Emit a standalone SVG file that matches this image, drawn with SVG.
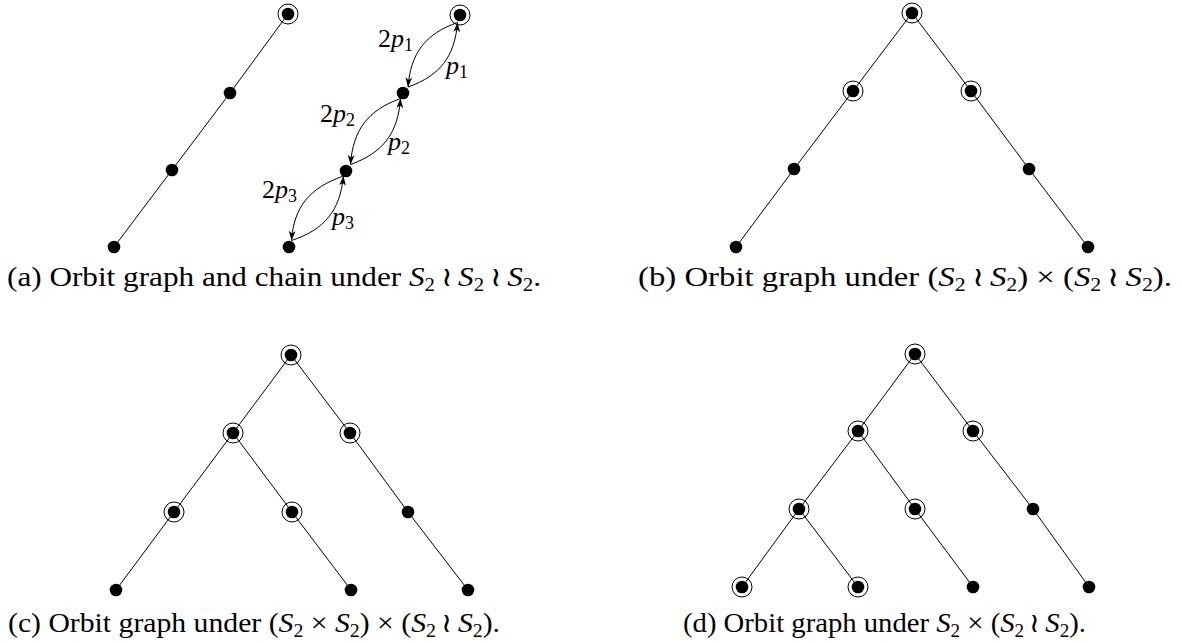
<svg xmlns="http://www.w3.org/2000/svg" width="1182" height="643" viewBox="0 0 1182 643">
<style>
.e{stroke:#000;stroke-width:1;fill:none}
.c{stroke:#000;stroke-width:1;fill:none;marker-end:url(#arr)}
.d{fill:#000}
.r{fill:none;stroke:#000;stroke-width:1}
text{font-family:"Liberation Serif","DejaVu Serif",serif;fill:#000}
.cap{font-size:27px}
.lbl{font-size:26px}
.i{font-style:italic}
.sb{font-size:18px}
.wr{font-family:"DejaVu Serif",serif}
</style>
<defs>
<marker id="arr" markerUnits="userSpaceOnUse" viewBox="-10 -5 11 10" refX="0" refY="0" markerWidth="11" markerHeight="10" orient="auto">
<path d="M0,0 L-9.5,-3.4 L-7,0 L-9.5,3.4 Z" fill="#000"/>
</marker>
</defs>
<rect width="1182" height="643" fill="#fff"/>
<g id="connectors">
<line class="e" x1="288" y1="14" x2="230" y2="93"/>
<line class="e" x1="230" y1="93" x2="172" y2="170"/>
<line class="e" x1="172" y1="170" x2="114" y2="247"/>
<path class="c" d="M457.5,22.5 C425.3,33.9 410.7,53 408,87"/>
<path class="c" d="M408,87 C440.2,75.6 454.8,56.5 457.5,22.5"/>
<path class="c" d="M400.5,98.5 C367.8,110.3 353,129.8 350.5,164.5"/>
<path class="c" d="M350.5,164.5 C383.2,152.7 398,133.2 400.5,98.5"/>
<path class="c" d="M343.5,176 C309.4,187.9 294,206.8 291.5,240.5"/>
<path class="c" d="M291.5,240.5 C324.6,229.6 340,210.7 343.5,176"/>
<line class="e" x1="912" y1="13" x2="853" y2="91"/>
<line class="e" x1="912" y1="13" x2="971" y2="91"/>
<line class="e" x1="853" y1="91" x2="794" y2="169"/>
<line class="e" x1="794" y1="169" x2="736" y2="247"/>
<line class="e" x1="971" y1="91" x2="1029" y2="169"/>
<line class="e" x1="1029" y1="169" x2="1088" y2="247"/>
<line class="e" x1="291" y1="355" x2="233" y2="433"/>
<line class="e" x1="291" y1="355" x2="350" y2="433"/>
<line class="e" x1="233" y1="433" x2="174" y2="512"/>
<line class="e" x1="233" y1="433" x2="292" y2="512"/>
<line class="e" x1="350" y1="433" x2="408" y2="512"/>
<line class="e" x1="174" y1="512" x2="116" y2="590"/>
<line class="e" x1="292" y1="512" x2="351" y2="590"/>
<line class="e" x1="408" y1="512" x2="468" y2="590"/>
<line class="e" x1="915" y1="354" x2="858" y2="431"/>
<line class="e" x1="915" y1="354" x2="973" y2="431"/>
<line class="e" x1="858" y1="431" x2="799" y2="509"/>
<line class="e" x1="858" y1="431" x2="915" y2="509"/>
<line class="e" x1="973" y1="431" x2="1033" y2="509"/>
<line class="e" x1="799" y1="509" x2="742" y2="587"/>
<line class="e" x1="799" y1="509" x2="858" y2="587"/>
<line class="e" x1="915" y1="509" x2="973" y2="587"/>
<line class="e" x1="1033" y1="509" x2="1089" y2="587"/>
</g>
<g id="labels">
<text class="lbl" x="378" y="46.5">2<tspan class="i">p</tspan><tspan class="sb" dy="4">1</tspan></text>
<text class="lbl" x="446" y="73.5"><tspan class="i">p</tspan><tspan class="sb" dy="4">1</tspan></text>
<text class="lbl" x="320" y="122">2<tspan class="i">p</tspan><tspan class="sb" dy="4">2</tspan></text>
<text class="lbl" x="388" y="150"><tspan class="i">p</tspan><tspan class="sb" dy="4">2</tspan></text>
<text class="lbl" x="262" y="198">2<tspan class="i">p</tspan><tspan class="sb" dy="4">3</tspan></text>
<text class="lbl" x="332" y="225"><tspan class="i">p</tspan><tspan class="sb" dy="4">3</tspan></text>
</g>
<g id="a1"><circle class="d" cx="288" cy="14" r="6.3"/><circle class="r" cx="288" cy="14" r="10"/></g>
<g id="a2"><circle class="d" cx="230" cy="93" r="6.3"/></g>
<g id="a3"><circle class="d" cx="172" cy="170" r="6.3"/></g>
<g id="a4"><circle class="d" cx="114" cy="247" r="6.3"/></g>
<g id="ch1"><circle class="d" cx="460" cy="15" r="6.3"/><circle class="r" cx="460" cy="15" r="10"/></g>
<g id="ch2"><circle class="d" cx="403" cy="93" r="6.3"/></g>
<g id="ch3"><circle class="d" cx="346" cy="171" r="6.3"/></g>
<g id="ch4"><circle class="d" cx="289" cy="247" r="6.3"/></g>
<g id="b1"><circle class="d" cx="912" cy="13" r="6.3"/><circle class="r" cx="912" cy="13" r="10"/></g>
<g id="b2"><circle class="d" cx="853" cy="91" r="6.3"/><circle class="r" cx="853" cy="91" r="10"/></g>
<g id="b3"><circle class="d" cx="971" cy="91" r="6.3"/><circle class="r" cx="971" cy="91" r="10"/></g>
<g id="b4"><circle class="d" cx="794" cy="169" r="6.3"/></g>
<g id="b5"><circle class="d" cx="1029" cy="169" r="6.3"/></g>
<g id="b6"><circle class="d" cx="736" cy="247" r="6.3"/></g>
<g id="b7"><circle class="d" cx="1088" cy="247" r="6.3"/></g>
<g id="c1"><circle class="d" cx="291" cy="355" r="6.3"/><circle class="r" cx="291" cy="355" r="10"/></g>
<g id="c2"><circle class="d" cx="233" cy="433" r="6.3"/><circle class="r" cx="233" cy="433" r="10"/></g>
<g id="c3"><circle class="d" cx="350" cy="433" r="6.3"/><circle class="r" cx="350" cy="433" r="10"/></g>
<g id="c4"><circle class="d" cx="174" cy="512" r="6.3"/><circle class="r" cx="174" cy="512" r="10"/></g>
<g id="c5"><circle class="d" cx="292" cy="512" r="6.3"/><circle class="r" cx="292" cy="512" r="10"/></g>
<g id="c6"><circle class="d" cx="408" cy="512" r="6.3"/></g>
<g id="c7"><circle class="d" cx="116" cy="590" r="6.3"/></g>
<g id="c8"><circle class="d" cx="351" cy="590" r="6.3"/></g>
<g id="c9"><circle class="d" cx="468" cy="590" r="6.3"/></g>
<g id="d1"><circle class="d" cx="915" cy="354" r="6.3"/><circle class="r" cx="915" cy="354" r="10"/></g>
<g id="d2"><circle class="d" cx="858" cy="431" r="6.3"/><circle class="r" cx="858" cy="431" r="10"/></g>
<g id="d3"><circle class="d" cx="973" cy="431" r="6.3"/><circle class="r" cx="973" cy="431" r="10"/></g>
<g id="d4"><circle class="d" cx="799" cy="509" r="6.3"/><circle class="r" cx="799" cy="509" r="10"/></g>
<g id="d5"><circle class="d" cx="915" cy="509" r="6.3"/><circle class="r" cx="915" cy="509" r="10"/></g>
<g id="d6"><circle class="d" cx="1033" cy="509" r="6.3"/></g>
<g id="d7"><circle class="d" cx="742" cy="587" r="6.3"/><circle class="r" cx="742" cy="587" r="10"/></g>
<g id="d8"><circle class="d" cx="858" cy="587" r="6.3"/><circle class="r" cx="858" cy="587" r="10"/></g>
<g id="d9"><circle class="d" cx="973" cy="587" r="6.3"/></g>
<g id="d10"><circle class="d" cx="1089" cy="587" r="6.3"/></g>
<g id="captions">
<text class="cap" x="7" y="286" textLength="534" lengthAdjust="spacingAndGlyphs">(a) Orbit graph and chain under <tspan class="i">S</tspan><tspan class="sb" dy="5">2</tspan><tspan class="wr" dx="5" dy="-5">≀</tspan><tspan class="i" dx="5">S</tspan><tspan class="sb" dy="5">2</tspan><tspan class="wr" dx="5" dy="-5">≀</tspan><tspan class="i" dx="5">S</tspan><tspan class="sb" dy="5">2</tspan><tspan dy="-5">.</tspan></text>
<text class="cap" x="638" y="286" textLength="534" lengthAdjust="spacingAndGlyphs">(b) Orbit graph under (<tspan class="i">S</tspan><tspan class="sb" dy="5">2</tspan><tspan class="wr" dx="5" dy="-5">≀</tspan><tspan class="i" dx="5">S</tspan><tspan class="sb" dy="5">2</tspan><tspan dy="-5">) × (</tspan><tspan class="i">S</tspan><tspan class="sb" dy="5">2</tspan><tspan class="wr" dx="5" dy="-5">≀</tspan><tspan class="i" dx="5">S</tspan><tspan class="sb" dy="5">2</tspan><tspan dy="-5">).</tspan></text>
<text class="cap" x="8" y="632" textLength="492" lengthAdjust="spacingAndGlyphs">(c) Orbit graph under (<tspan class="i">S</tspan><tspan class="sb" dy="5">2</tspan><tspan dy="-5"> × </tspan><tspan class="i">S</tspan><tspan class="sb" dy="5">2</tspan><tspan dy="-5">) × (</tspan><tspan class="i">S</tspan><tspan class="sb" dy="5">2</tspan><tspan class="wr" dx="5" dy="-5">≀</tspan><tspan class="i" dx="5">S</tspan><tspan class="sb" dy="5">2</tspan><tspan dy="-5">).</tspan></text>
<text class="cap" x="683" y="632" textLength="403" lengthAdjust="spacingAndGlyphs">(d) Orbit graph under <tspan class="i">S</tspan><tspan class="sb" dy="5">2</tspan><tspan dy="-5"> × (</tspan><tspan class="i">S</tspan><tspan class="sb" dy="5">2</tspan><tspan class="wr" dx="5" dy="-5">≀</tspan><tspan class="i" dx="5">S</tspan><tspan class="sb" dy="5">2</tspan><tspan dy="-5">).</tspan></text>
</g>
</svg>
